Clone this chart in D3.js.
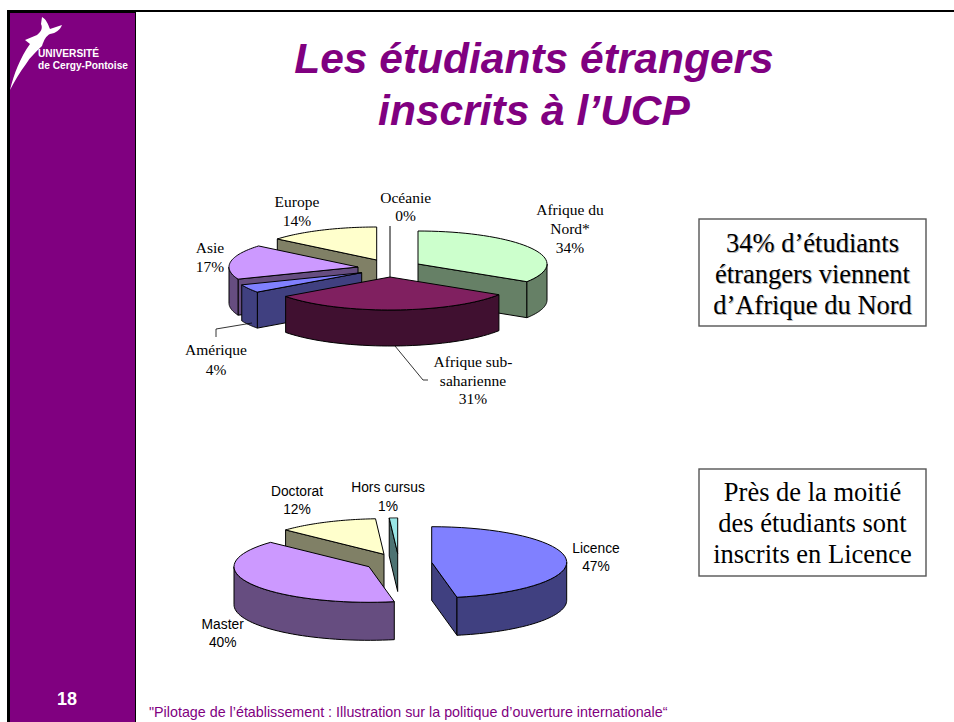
<!DOCTYPE html>
<html><head><meta charset="utf-8">
<script src="https://cdn.jsdelivr.net/npm/d3@7"></script>
<style>html,body{margin:0;padding:0;background:#fff}svg{display:block}</style></head>
<body><svg id="c" width="954" height="722"></svg>
<script>
const originCategories = ["Afrique du Nord*", "Afrique sub-saharienne", "Amérique", "Asie", "Europe", "Océanie"];
const originValues = [34, 31, 4, 17, 14, 0];
const cursusCategories = ["Licence", "Master", "Doctorat", "Hors cursus"];
const cursusValues = [47, 40, 12, 1];

const PURPLE = "#800080";
const svg = d3.select("#c");
const serif = "'Liberation Serif','Times New Roman',serif";
const sans = "'Liberation Sans',Arial,sans-serif";

// slide frame
svg.append("rect").attr("x",7).attr("y",10).attr("width",947).attr("height",712).attr("fill","#000");
svg.append("rect").attr("x",136).attr("y",12).attr("width",818).attr("height",710).attr("fill","#fff");
svg.append("rect").attr("x",10).attr("y",13).attr("width",125).attr("height",709).attr("fill",PURPLE);

// logo
const logo = svg.append("g");
logo.append("path").attr("fill","#fff")
  .attr("d","M10,90 C14,74 20,58 30,44 L25,40 L37,35 C41,32 43,28 41,24 L42,17 C46,19 48,24 50,29 L62,25 C60,30 56,33 50,34 C46,36 44,40 42,46 C36,52 30,57 26,64 C20,72 14,82 10,90Z");
logo.append("text").attr("x",38).attr("y",57).attr("font-family",sans).attr("font-weight","bold").attr("font-size",10).attr("textLength",61).attr("lengthAdjust","spacingAndGlyphs").attr("fill","#fff").text("UNIVERSITÉ");
logo.append("text").attr("x",38).attr("y",69).attr("font-family",sans).attr("font-weight","bold").attr("font-size",10).attr("textLength",90).attr("lengthAdjust","spacingAndGlyphs").attr("fill","#fff").text("de Cergy-Pontoise");
svg.append("text").attr("x",67).attr("y",705).attr("text-anchor","middle").attr("font-family",sans).attr("font-weight","bold").attr("font-size",18).attr("fill","#fff").text("18");

// title
[["Les étudiants étrangers",73],["inscrits à l’UCP",125]].forEach(([t,y]) =>
  svg.append("text").attr("x",534).attr("y",y).attr("text-anchor","middle").attr("font-family",sans)
    .attr("font-weight","bold").attr("font-style","italic").attr("font-size",42.5).attr("fill",PURPLE).text(t));

svg.append("text").attr("x",149).attr("y",716.5).attr("font-family",sans).attr("font-size",14.3).attr("fill",PURPLE)
  .text("\"Pilotage de l’établissement : Illustration sur la politique d’ouverture internationale“");

// 3D exploded pie built from d3.pie angles
const pie = d3.pie().sort(null).value(d => d);
function pie3d(values, opt){
  const arcs = pie(values);
  const g = svg.append("g").attr("stroke","#000").attr("stroke-width",1).attr("stroke-linejoin","round");
  const px = (c,a,r) => c[0] + opt.rx*r*Math.sin(a);
  const py = (c,a,r) => c[1] - opt.ry*r*Math.cos(a);
  const rim = (c,a0,a1,dy) => d3.range(0,41).map(i => {
    const a = a0 + (a1-a0)*i/40;
    return [px(c,a,1), py(c,a,1)+dy];
  });
  const line = d3.line();
  opt.order.forEach(i => {
    const s = arcs[i], c = opt.apex[i], a0 = s.startAngle, a1 = s.endAngle;
    const [top, side] = opt.colors[i];
    const face = a => line([[c[0],c[1]],[px(c,a,1),py(c,a,1)],[px(c,a,1),py(c,a,1)+opt.depth],[c[0],c[1]+opt.depth]])+"Z";
    const el = g.append("g");
    if (a1 > a0) {
      if (Math.sin(a1) > 1e-6) el.append("path").attr("d",face(a1)).attr("fill",side);
      if (Math.sin(a0) < -1e-6) el.append("path").attr("d",face(a0)).attr("fill",side);
      const lo = Math.max(a0, Math.PI/2), hi = Math.min(a1, 3*Math.PI/2);
      if (hi > lo) el.append("path").attr("d",line(rim(c,lo,hi,0).concat(rim(c,hi,lo,opt.depth)))+"Z").attr("fill",side);
      el.append("path").attr("d",line([[c[0],c[1]]].concat(rim(c,a0,a1,0)))+"Z").attr("fill",top);
    } else {
      el.append("path").attr("d",line([[px(c,a0,1),py(c,a0,1)],[c[0],c[1]+opt.depth]])).attr("fill","none");
    }
  });
}

pie3d(originValues,{
  rx:129, ry:33, depth:36,
  apex:[[418,264],[390,277],[361.7,272.7],[358,267],[376.7,260],[390,259]],
  order:[5,4,0,3,2,1],
  colors:[["#ccffcc","#668066"],["#802060","#401030"],["#8080ff","#404080"],["#cc99ff","#664d80"],["#ffffcc","#808066"],["#fff","#808080"]]
});
pie3d(cursusValues,{
  rx:135, ry:35.6, depth:38,
  apex:[[431.7,562.3],[369,566.7],[384,554.3],[397.7,553.5]],
  order:[3,2,1,0],
  colors:[["#8080ff","#404080"],["#cc99ff","#664d80"],["#ffffcc","#808066"],["#99e6e6","#4d7373"]]
});

// leader lines
svg.append("path").attr("fill","none").attr("stroke","#000").attr("stroke-width",.8)
  .attr("d","M395,346 L423,380 L428,380 M252,323 L216,329 L216,337");

// data labels
function label(cx, lines, y0, dy, fam, size){
  lines.forEach((t,i)=> svg.append("text").attr("x",cx).attr("y",y0+i*dy).attr("text-anchor","middle")
    .attr("font-family",fam).attr("font-size",size).attr("fill","#000").text(t));
}
const pct = (vals,i) => vals[i] + "%";
label(570,["Afrique du","Nord*",pct(originValues,0)],215,19,serif,15.5);
label(473,["Afrique sub-","saharienne",pct(originValues,1)],367,18.5,serif,15.5);
label(216,[originCategories[2],pct(originValues,2)],355,20,serif,15.5);
label(210,[originCategories[3],pct(originValues,3)],252.7,19,serif,15.5);
label(297,[originCategories[4],pct(originValues,4)],207,18.7,serif,15.5);
label(405.7,[originCategories[5],pct(originValues,5)],202.7,18,serif,15.5);
label(596,[cursusCategories[0],pct(cursusValues,0)],553.3,17.5,sans,13.8);
label(222.7,[cursusCategories[1],pct(cursusValues,1)],629,18,sans,13.8);
label(297,[cursusCategories[2],pct(cursusValues,2)],496,18,sans,13.8);
label(388,[cursusCategories[3],pct(cursusValues,3)],492,18.7,sans,13.8);

// callouts
function box(x,y,w,h,lines,y0,shadow){
  svg.append("rect").attr("x",x).attr("y",y).attr("width",w).attr("height",h).attr("fill","#fff").attr("stroke","#555").attr("stroke-width",1.4);
  lines.forEach((t,i)=> {
    if (shadow) svg.append("text").attr("x",x+w/2+1).attr("y",y0+i*31+1).attr("text-anchor","middle").attr("font-family",serif).attr("font-size",26.5).attr("fill","#bbb").text(t);
    svg.append("text").attr("x",x+w/2).attr("y",y0+i*31).attr("text-anchor","middle").attr("font-family",serif).attr("font-size",26.5).attr("fill","#000").text(t);
  });
}
box(699,219,227,107,["34% d’étudiants","étrangers viennent","d’Afrique du Nord"],251.7,true);
box(699,469,227,107,["Près de la moitié","des étudiants sont","inscrits en Licence"],500.7,false);
</script></body></html>
